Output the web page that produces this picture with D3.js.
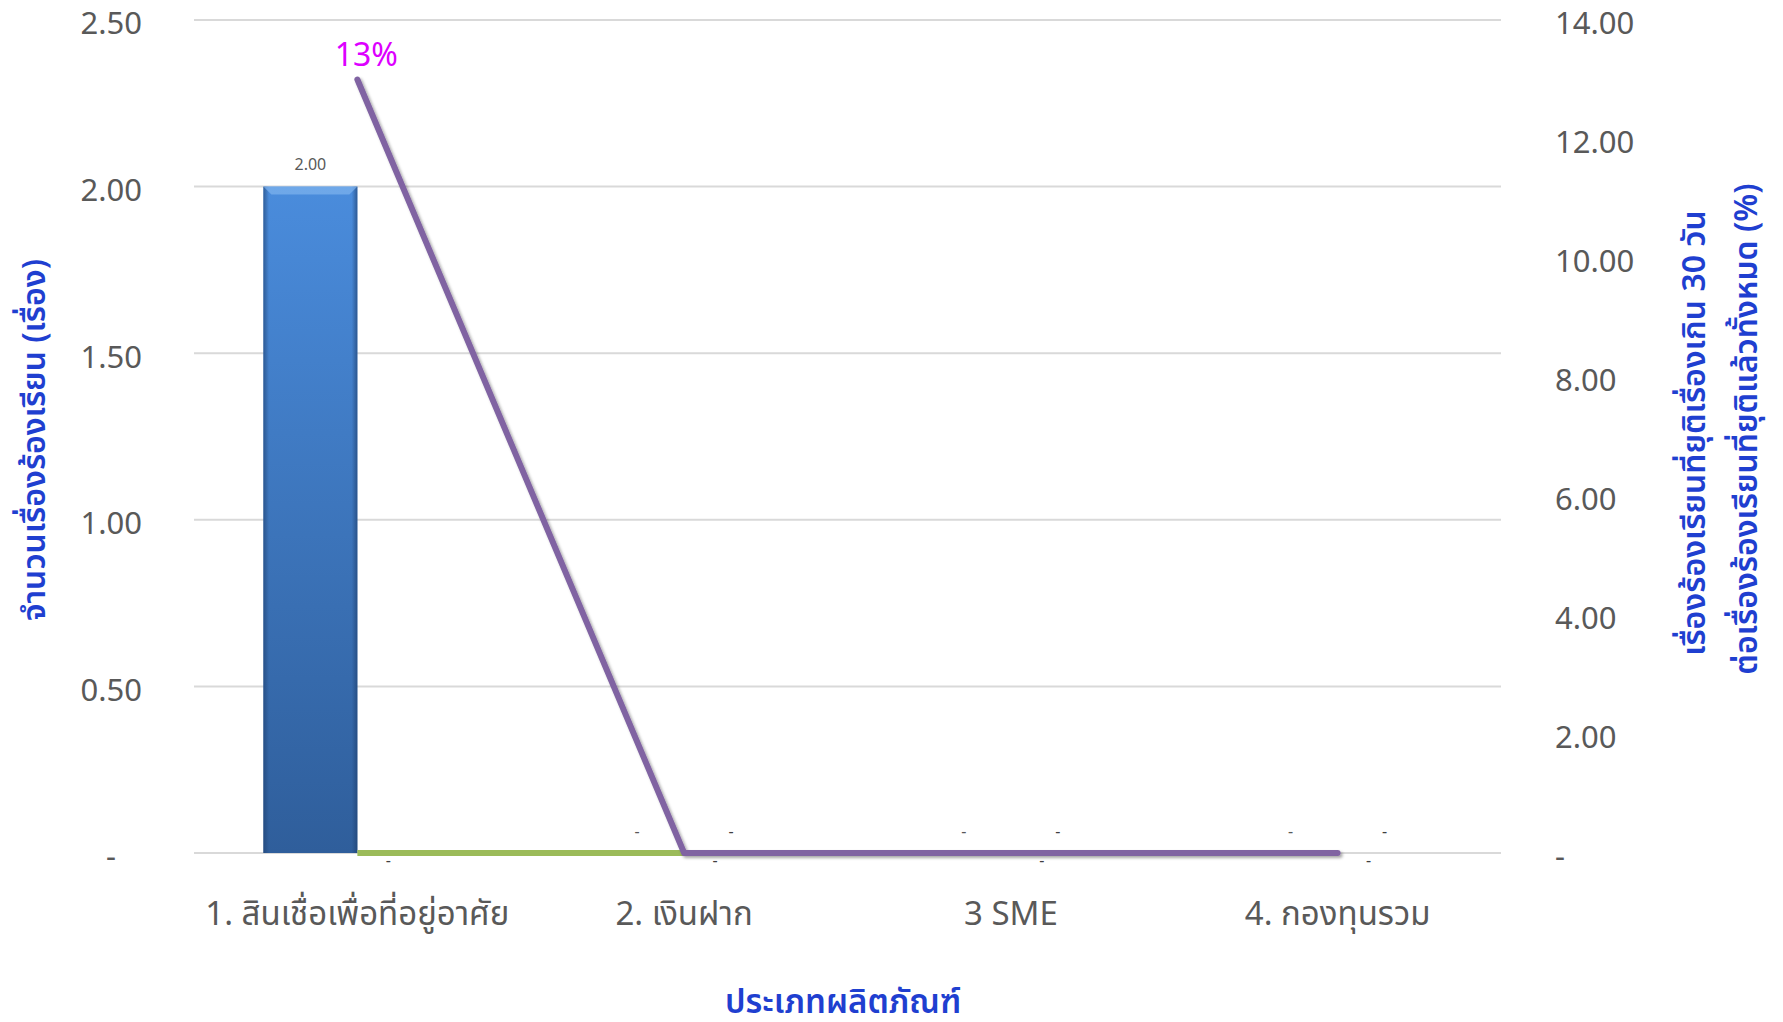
<!DOCTYPE html>
<html>
<head>
<meta charset="utf-8">
<script src="https://cdn.jsdelivr.net/npm/d3@7"></script>
<style>
  body { margin: 0; background: #fff; }
  text { font-family: "Noto Sans Thai", "Noto Sans", "Open Sans", sans-serif; }
</style>
</head>
<body>
<svg id="chart" width="1783" height="1022"></svg>
<script>
// data
var categories = ["1. สินเชื่อเพื่อที่อยู่อาศัย", "2. เงินฝาก", "3 SME", "4. กองทุนรวม"];
var complaints = [2, 0, 0, 0];        // blue bars, left axis
var complaintsB = [null, 0, 0, 0];    // second bar series (all zero)
var greenLine = [0, 0, 0, 0];         // green line, left axis
var pctOver30 = [13, 0, 0, 0];        // purple line, right axis (%)
var leftTicks = [0, 0.5, 1, 1.5, 2, 2.5];
var rightTicks = [0, 2, 4, 6, 8, 10, 12, 14];

var svg = d3.select("#chart");
var plotL = 194, plotR = 1501, plotT = 20, plotB = 853;

var x = d3.scaleBand().domain(categories).range([plotL, plotR]);
var yL = d3.scaleLinear().domain([0, 2.5]).range([plotB, plotT]);
var yR = d3.scaleLinear().domain([0, 14]).range([plotB, plotT]);
var barW = 94;
var cx = function(d, i){ return x(categories[i]) + x.bandwidth() / 2; };

var defs = svg.append("defs");
var g1 = defs.append("linearGradient").attr("id", "barGrad").attr("x1", 0).attr("y1", 0).attr("x2", 0).attr("y2", 1);
g1.append("stop").attr("offset", "0%").attr("stop-color", "#4a8cdc");
g1.append("stop").attr("offset", "100%").attr("stop-color", "#2f5e9b");
var g2 = defs.append("linearGradient").attr("id", "edgeGrad").attr("x1", 0).attr("y1", 0).attr("x2", 1).attr("y2", 0);
g2.append("stop").attr("offset", "0%").attr("stop-color", "#1e3f6e").attr("stop-opacity", 0.6);
g2.append("stop").attr("offset", "6%").attr("stop-color", "#1e3f6e").attr("stop-opacity", 0);
g2.append("stop").attr("offset", "94%").attr("stop-color", "#1e3f6e").attr("stop-opacity", 0);
g2.append("stop").attr("offset", "100%").attr("stop-color", "#1e3f6e").attr("stop-opacity", 0.65);
var sh = defs.append("filter").attr("id", "shadow").attr("x", "-10%").attr("y", "-10%").attr("width", "130%").attr("height", "130%");
sh.append("feDropShadow").attr("dx", 2).attr("dy", 2).attr("stdDeviation", 1.5).attr("flood-color", "#000").attr("flood-opacity", 0.35);

// gridlines
svg.append("g").selectAll("line").data(leftTicks).join("line")
  .attr("x1", plotL).attr("x2", plotR)
  .attr("y1", function(d){ return yL(d); }).attr("y2", function(d){ return yL(d); })
  .attr("stroke", "#d9d9d9").attr("stroke-width", 2);

// left axis
var fmt = function(d){ return d === 0 ? "-" : d3.format(".2f")(d); };
var axL = svg.append("g").attr("transform", "translate(" + plotL + ",0)")
  .call(d3.axisLeft(yL).tickValues(leftTicks).tickFormat(fmt).tickSize(0).tickPadding(52));
axL.select(".domain").remove();
axL.selectAll("text").attr("font-size", 31).attr("fill", "#595959")
  .attr("dy", "0.45em")
  .attr("dx", function(d){ return d === 0 ? -26 : 0; });

// right axis
var axR = svg.append("g").attr("transform", "translate(" + plotR + ",0)")
  .call(d3.axisRight(yR).tickValues(rightTicks).tickFormat(fmt).tickSize(0).tickPadding(54));
axR.select(".domain").remove();
axR.selectAll("text").attr("font-size", 31).attr("fill", "#595959").attr("dy", "0.45em");

// bars
var barX = function(d, i){ return cx(d, i) - barW; };
svg.append("g").selectAll("rect").data(complaints).join("rect")
  .attr("x", barX)
  .attr("y", function(d){ return yL(d); })
  .attr("width", barW)
  .attr("height", function(d){ return plotB - yL(d); })
  .attr("fill", "url(#barGrad)");
svg.append("g").selectAll("rect").data(complaints).join("rect")
  .attr("x", barX)
  .attr("y", function(d){ return yL(d); })
  .attr("width", barW)
  .attr("height", function(d){ return plotB - yL(d); })
  .attr("fill", "url(#edgeGrad)");
// bevel on top of the bar
svg.append("g").selectAll("path").data(complaints).join("path")
  .attr("d", function(d, i){
    if (!(d > 0)) return null;
    var x0 = barX(d, i), y0 = yL(d);
    return "M" + x0 + "," + y0 + "L" + (x0 + barW) + "," + y0 + "L" + (x0 + barW - 8) + "," + (y0 + 8) + "L" + (x0 + 8) + "," + (y0 + 8) + "Z";
  })
  .attr("fill", "#7fb3ee").attr("opacity", 0.7);

// bar value labels
svg.append("g").selectAll("text").data(complaints).join("text")
  .attr("x", function(d, i){ return cx(d, i) - barW / 2; })
  .attr("y", function(d){ return yL(d) - (d > 0 ? 17 : 16); })
  .attr("text-anchor", "middle")
  .attr("font-size", 16)
  .attr("fill", "#595959")
  .text(function(d){ return d > 0 ? d3.format(".2f")(d) : "-"; });
svg.append("g").selectAll("text").data(complaintsB).join("text")
  .attr("x", function(d, i){ return cx(d, i) + barW / 2; })
  .attr("y", function(d){ return yL(d || 0) - 16; })
  .attr("text-anchor", "middle")
  .attr("font-size", 16).attr("fill", "#404040")
  .text(function(d){ return d === null ? "" : "-"; });

// green line
svg.append("path").datum(greenLine)
  .attr("d", d3.line().x(cx).y(function(d){ return yL(d); }))
  .attr("fill", "none").attr("stroke", "#9bbb59").attr("stroke-width", 6);
svg.append("g").selectAll("text").data(greenLine).join("text")
  .attr("x", function(d, i){ return cx(d, i) + 31; })
  .attr("y", function(d){ return yL(d) + 13; })
  .attr("text-anchor", "middle").attr("font-size", 16).attr("fill", "#404040")
  .text("-");

// purple line
svg.append("path").datum(pctOver30)
  .attr("d", d3.line().x(cx).y(function(d){ return yR(d); }))
  .attr("fill", "none").attr("stroke", "#8064a2").attr("stroke-width", 6)
  .attr("stroke-linecap", "round").attr("stroke-linejoin", "round")
  .attr("filter", "url(#shadow)");
svg.append("g").selectAll("text").data(pctOver30).join("text")
  .attr("x", function(d, i){ return cx(d, i) + 9; })
  .attr("y", function(d){ return yR(d) - 14; })
  .attr("text-anchor", "middle").attr("font-size", 32).attr("fill", "#dd00ff")
  .text(function(d){ return d > 0 ? d + "%" : ""; });

// category labels
svg.append("g").selectAll("text").data(categories).join("text")
  .attr("x", function(d){ return x(d) + x.bandwidth() / 2; })
  .attr("y", 925)
  .attr("text-anchor", "middle").attr("font-size", 33).attr("fill", "#595959")
  .text(function(d){ return d; });

// axis titles
svg.append("text").attr("x", 843).attr("y", 1013)
  .attr("text-anchor", "middle").attr("font-size", 33).attr("font-weight", 600).attr("fill", "#1f3fd0")
  .text("ประเภทผลิตภัณฑ์");
svg.append("text").attr("transform", "translate(45,440) rotate(-90)")
  .attr("text-anchor", "middle").attr("font-size", 32).attr("font-weight", 600).attr("fill", "#1f3fd0")
  .text("จำนวนเรื่องร้องเรียน (เรื่อง)");
svg.append("text").attr("transform", "translate(1705,433) rotate(-90)")
  .attr("text-anchor", "middle").attr("font-size", 32).attr("font-weight", 600).attr("fill", "#1f3fd0")
  .text("เรื่องร้องเรียนที่ยุติเรื่องเกิน 30 วัน");
svg.append("text").attr("transform", "translate(1757,429) rotate(-90)")
  .attr("text-anchor", "middle").attr("font-size", 32).attr("font-weight", 600).attr("fill", "#1f3fd0")
  .text("ต่อเรื่องร้องเรียนที่ยุติแล้วทั้งหมด (%)");
</script>
</body>
</html>
